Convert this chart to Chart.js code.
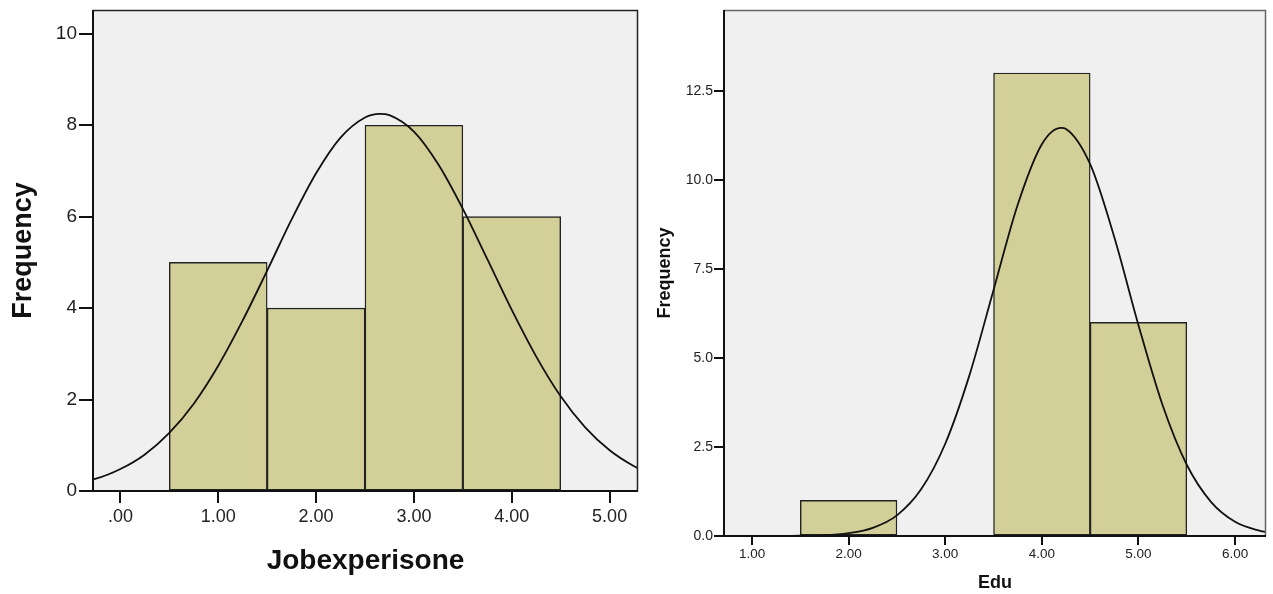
<!DOCTYPE html>
<html>
<head>
<meta charset="utf-8">
<script src="https://cdn.jsdelivr.net/npm/chart.js@4"></script>
<style>
  html, body { margin: 0; padding: 0; background: #ffffff; }
  body { width: 1273px; height: 594px; position: relative; overflow: hidden; }
  .box { position: absolute; top: 0; height: 594px; }
  #b1 { left: 0; width: 645px; }
  #b2 { left: 645px; width: 628px; }
</style>
</head>
<body>
<div class="box" id="b1"><canvas id="c1"></canvas></div>
<div class="box" id="b2"><canvas id="c2"></canvas></div>
<script>
// ---------- Left chart: Jobexperisone ----------
const jobBinCenters = [1, 2, 3, 4];
const jobFrequency = [5, 4, 8, 6];
const jobXTicks = [0, 1, 2, 3, 4, 5];
const jobXTickLabels = ['.00', '1.00', '2.00', '3.00', '4.00', '5.00'];
const jobYTicks = [0, 2, 4, 6, 8, 10];
const jobYTickLabels = ['0', '2', '4', '6', '8', '10'];
const jobCurveX = [-0.28, -0.25, 0, 0.25, 0.5, 0.75, 1, 1.25, 1.5, 1.75, 2, 2.25, 2.5, 2.65, 2.75, 3, 3.25, 3.5, 3.75, 4, 4.25, 4.5, 4.75, 5, 5.25, 5.29];
const jobCurveY = [0.26, 0.27, 0.48, 0.80, 1.27, 1.91, 2.74, 3.73, 4.82, 5.94, 6.95, 7.73, 8.17, 8.25, 8.22, 7.86, 7.14, 6.17, 5.07, 3.96, 2.94, 2.07, 1.39, 0.89, 0.54, 0.50];

// ---------- Right chart: Edu ----------
const eduBinCenters = [2, 4, 5];
const eduFrequency = [1, 13, 6];
const eduXTicks = [1, 2, 3, 4, 5, 6];
const eduXTickLabels = ['1.00', '2.00', '3.00', '4.00', '5.00', '6.00'];
const eduYTicks = [0, 2.5, 5, 7.5, 10, 12.5];
const eduYTickLabels = ['0.0', '2.5', '5.0', '7.5', '10.0', '12.5'];
const eduCurveX = [0.71, 1, 1.25, 1.5, 1.75, 2, 2.25, 2.5, 2.75, 3, 3.25, 3.5, 3.75, 4, 4.2, 4.25, 4.5, 4.75, 5, 5.25, 5.5, 5.75, 6, 6.25, 6.32];
const eduCurveY = [0, 0, 0.00, 0.01, 0.02, 0.08, 0.23, 0.58, 1.31, 2.59, 4.51, 6.91, 9.30, 11.00, 11.46, 11.43, 10.44, 8.39, 5.92, 3.67, 2.00, 0.96, 0.40, 0.15, 0.11];

const BAR_FILL = '#d3cf98';
const PLOT_BG = '#f0f0f0';

const plotDecor = {
  id: 'plotDecor',
  beforeDatasetsDraw(chart) {
    const a = chart.chartArea, ctx = chart.ctx;
    ctx.save();
    ctx.fillStyle = PLOT_BG;
    ctx.fillRect(a.left, a.top, a.right - a.left, a.bottom - a.top);
    ctx.restore();
  },
  afterDatasetsDraw(chart, args, opts) {
    const a = chart.chartArea, ctx = chart.ctx;
    ctx.save();
    ctx.lineWidth = 1.5;
    ctx.strokeStyle = opts.frameColor || '#333';
    ctx.beginPath();
    ctx.moveTo(a.left, a.top + 0.5);
    ctx.lineTo(a.right - 0.5, a.top + 0.5);
    ctx.lineTo(a.right - 0.5, a.bottom);
    ctx.stroke();
    ctx.strokeStyle = '#111';
    ctx.lineWidth = 2;
    ctx.beginPath();
    ctx.moveTo(a.left, a.top);
    ctx.lineTo(a.left, a.bottom);
    ctx.lineTo(a.right, a.bottom);
    ctx.stroke();
    ctx.restore();
  }
};

function makeChart(id, cfg) {
  const bars = cfg.centers.map((c, i) => ({ x: c, y: cfg.freq[i] }));
  const curve = cfg.curveX.map((x, i) => ({ x: x, y: cfg.curveY[i] }));
  return new Chart(document.getElementById(id), {
    type: 'bar',
    data: {
      datasets: [
        {
          type: 'line',
          data: curve,
          borderColor: '#111',
          borderWidth: 1.8,
          pointRadius: 0,
          cubicInterpolationMode: 'monotone',
          fill: false,
          order: 0
        },
        {
          type: 'bar',
          data: bars,
          backgroundColor: BAR_FILL,
          borderColor: '#222',
          borderWidth: 1.4,
          borderSkipped: false,
          barPercentage: 1,
          categoryPercentage: 1,
          order: 1
        }
      ]
    },
    options: {
      responsive: true,
      maintainAspectRatio: false,
      animation: false,
      events: [],
      layout: { padding: cfg.padding },
      plugins: {
        legend: { display: false },
        tooltip: { enabled: false },
        plotDecor: { frameColor: cfg.frameColor }
      },
      scales: {
        x: {
          type: 'linear',
          min: cfg.xMin,
          max: cfg.xMax,
          offset: false,
          border: { display: false },
          grid: { offset: false, drawOnChartArea: false, drawTicks: true, tickLength: cfg.xTickLen, tickColor: '#111', lineWidth: 2 },
          afterBuildTicks: s => { s.ticks = cfg.xTicks.map(v => ({ value: v })); },
          ticks: {
            autoSkip: false,
            maxRotation: 0,
            padding: cfg.xTickPad,
            color: '#222',
            font: { family: 'Liberation Sans, Arial, sans-serif', size: cfg.xTickSize },
            callback: (v) => { const i = cfg.xTicks.indexOf(v); return i >= 0 ? cfg.xLabels[i] : ''; }
          },
          title: {
            display: true,
            text: cfg.xTitle,
            color: '#111',
            padding: { top: 0, bottom: cfg.xTitlePadBottom },
            font: { family: 'Liberation Sans, Arial, sans-serif', size: cfg.xTitleSize, weight: 'bold' }
          },
          afterFit: s => { s.height = cfg.xAxisH; s.paddingLeft = 0; s.paddingRight = 0; }
        },
        y: {
          type: 'linear',
          min: 0,
          max: cfg.yMax,
          border: { display: false },
          grid: { drawOnChartArea: false, drawTicks: true, tickLength: cfg.yTickLen, tickColor: '#111', lineWidth: 2 },
          afterBuildTicks: s => { s.ticks = cfg.yTicks.map(v => ({ value: v })); },
          ticks: {
            autoSkip: false,
            padding: cfg.yTickPad,
            color: '#222',
            font: { family: 'Liberation Sans, Arial, sans-serif', size: cfg.yTickSize },
            callback: (v) => { const i = cfg.yTicks.indexOf(v); return i >= 0 ? cfg.yLabels[i] : ''; }
          },
          title: {
            display: true,
            text: 'Frequency',
            color: '#111',
            padding: { top: cfg.yTitlePadTop, bottom: 0 },
            font: { family: 'Liberation Sans, Arial, sans-serif', size: cfg.yTitleSize, weight: 'bold' }
          },
          afterFit: s => { s.width = cfg.yAxisW; s.paddingTop = 0; s.paddingBottom = 0; }
        }
      }
    },
    plugins: [plotDecor]
  });
}

makeChart('c1', {
  centers: jobBinCenters, freq: jobFrequency,
  curveX: jobCurveX, curveY: jobCurveY,
  xTicks: jobXTicks, xLabels: jobXTickLabels,
  yTicks: jobYTicks, yLabels: jobYTickLabels,
  xMin: -0.28, xMax: 5.29, yMax: 10.52,
  xTitle: 'Jobexperisone',
  padding: { left: 0, right: 7, top: 10, bottom: 0 },
  xAxisH: 103, yAxisW: 93,
  xTickLen: 12, yTickLen: 14, xTickPad: 3, yTickPad: 2,
  xTickSize: 18, yTickSize: 19,
  xTitleSize: 28, yTitleSize: 27,
  xTitlePadBottom: 16, yTitlePadTop: 7,
  frameColor: '#222'
});

makeChart('c2', {
  centers: eduBinCenters, freq: eduFrequency,
  curveX: eduCurveX, curveY: eduCurveY,
  xTicks: eduXTicks, xLabels: eduXTickLabels,
  yTicks: eduYTicks, yLabels: eduYTickLabels,
  xMin: 0.71, xMax: 6.32, yMax: 14.77,
  xTitle: 'Edu',
  padding: { left: 0, right: 7, top: 10, bottom: 0 },
  xAxisH: 58, yAxisW: 79,
  xTickLen: 9, yTickLen: 10, xTickPad: 1, yTickPad: 1,
  xTickSize: 13.5, yTickSize: 14,
  xTitleSize: 18, yTitleSize: 18,
  xTitlePadBottom: 0, yTitlePadTop: 9,
  frameColor: '#666'
});
</script>
</body>
</html>
